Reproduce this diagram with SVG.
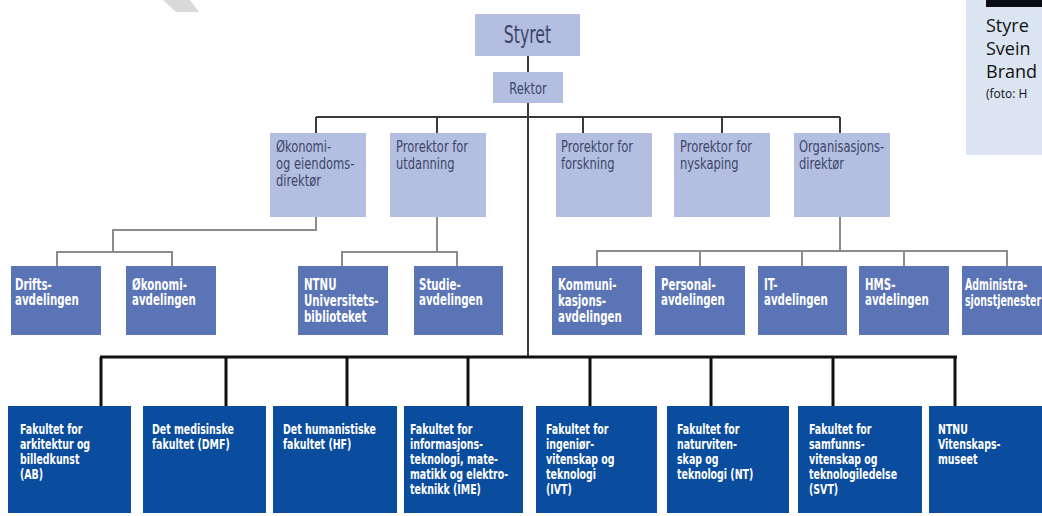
<svg xmlns="http://www.w3.org/2000/svg" width="1042" height="516" viewBox="0 0 1042 516">
<style>
.l1{fill:#b4bee1}
.l3{fill:#5a74b6}
.fac{fill:#0a4c9d}
.t1{font-family:"DejaVu Sans Condensed","Liberation Sans",sans-serif;fill:#3b4768}
.t2{font-family:"DejaVu Sans Condensed","Liberation Sans",sans-serif;font-size:15px;font-weight:bold;fill:#ffffff}
.t3{font-family:"DejaVu Sans Condensed","Liberation Sans",sans-serif;font-size:14px;font-weight:bold;fill:#ffffff}
.top{fill:none;stroke:#3a3a3a;stroke-width:2}
.mid{fill:none;stroke:#8c8c8c;stroke-width:2}
.bot{fill:none;stroke:#111111;stroke-width:3}
.pan{font-family:"Open Sans","Liberation Sans",sans-serif;fill:#111111}
</style>
<rect width="1042" height="516" fill="#ffffff"/>
<polygon points="163,0 190,0 199,12 176,12" fill="#d9d9d9"/>
<g id="panel">
<rect x="966" y="0" width="76" height="155" fill="#dbe4f1"/>
<rect x="986" y="0" width="56" height="7" fill="#0a0a14"/>
<text class="pan" x="986" y="32" font-size="18">Styre</text>
<text class="pan" x="986" y="55" font-size="18">Svein</text>
<text class="pan" x="986" y="78" font-size="18">Brand</text>
<text class="pan" x="986" y="98" font-size="12">(foto: H</text>
</g>
<g id="connectors">
<path class="top" d="M528,56V72 M528,103V357 M316,117H840 M316,117V133 M437,117V133 M583,117V133 M722,117V133 M840,117V133"/>
<path class="mid" d="M316,217V230H113V252 M57,266V252H172V266 M437,217V252 M342,266V252H457V266 M840,217V251 M597,266V251H1007V266 M700,251V266 M802,251V266 M904,251V266"/>
<path class="bot" d="M100,357H957 M101,357V406 M226,357V406 M347,357V406 M468,357V406 M590,357V406 M711,357V406 M833,357V406 M955,357V406"/>
</g>
<g id="styret"><rect class="l1" x="475" y="14" width="105" height="42"/><text class="t1" transform="translate(527.5,0) scale(0.7,1)" x="0" y="43" font-size="25" text-anchor="middle">Styret</text></g>
<g id="rektor"><rect class="l1" x="493" y="72" width="70" height="31"/><text class="t1" transform="translate(528,0) scale(0.8,1)" x="0" y="94" font-size="16" text-anchor="middle">Rektor</text></g>
<g id="okdir"><rect class="l1" x="270" y="133" width="96" height="84"/><text class="t1" font-size="16" transform="translate(276,0) scale(0.8,1)"><tspan x="0" y="152">Økonomi-</tspan><tspan x="0" y="169">og eiendoms-</tspan><tspan x="0" y="186">direktør</tspan></text></g>
<g id="utdanning"><rect class="l1" x="390" y="133" width="96" height="84"/><text class="t1" font-size="16" transform="translate(396,0) scale(0.8,1)"><tspan x="0" y="152">Prorektor for</tspan><tspan x="0" y="169">utdanning</tspan></text></g>
<g id="forskning"><rect class="l1" x="556" y="133" width="96" height="84"/><text class="t1" font-size="16" transform="translate(561,0) scale(0.8,1)"><tspan x="0" y="152">Prorektor for</tspan><tspan x="0" y="169">forskning</tspan></text></g>
<g id="nyskaping"><rect class="l1" x="674" y="133" width="96" height="84"/><text class="t1" font-size="16" transform="translate(680,0) scale(0.8,1)"><tspan x="0" y="152">Prorektor for</tspan><tspan x="0" y="169">nyskaping</tspan></text></g>
<g id="orgdir"><rect class="l1" x="794" y="133" width="96" height="84"/><text class="t1" font-size="16" transform="translate(799,0) scale(0.8,1)"><tspan x="0" y="152">Organisasjons-</tspan><tspan x="0" y="169">direktør</tspan></text></g>
<g id="drift"><rect class="l3" x="11" y="266" width="90" height="69"/><text class="t2" transform="translate(15,0) scale(0.76,1)"><tspan x="0" y="290">Drifts-</tspan><tspan x="0" y="305">avdelingen</tspan></text></g>
<g id="okavd"><rect class="l3" x="126" y="266" width="90" height="69"/><text class="t2" transform="translate(132,0) scale(0.76,1)"><tspan x="0" y="290">Økonomi-</tspan><tspan x="0" y="305">avdelingen</tspan></text></g>
<g id="ub"><rect class="l3" x="298" y="266" width="90" height="69"/><text class="t2" transform="translate(304,0) scale(0.76,1)"><tspan x="0" y="290">NTNU</tspan><tspan x="0" y="306">Universitets-</tspan><tspan x="0" y="322">biblioteket</tspan></text></g>
<g id="studie"><rect class="l3" x="414" y="266" width="89" height="69"/><text class="t2" transform="translate(419,0) scale(0.76,1)"><tspan x="0" y="290">Studie-</tspan><tspan x="0" y="305">avdelingen</tspan></text></g>
<g id="komm"><rect class="l3" x="552" y="266" width="90" height="69"/><text class="t2" transform="translate(558,0) scale(0.76,1)"><tspan x="0" y="290">Kommuni-</tspan><tspan x="0" y="306">kasjons-</tspan><tspan x="0" y="322">avdelingen</tspan></text></g>
<g id="personal"><rect class="l3" x="655" y="266" width="90" height="69"/><text class="t2" transform="translate(661,0) scale(0.76,1)"><tspan x="0" y="290">Personal-</tspan><tspan x="0" y="305">avdelingen</tspan></text></g>
<g id="it"><rect class="l3" x="758" y="266" width="89" height="69"/><text class="t2" transform="translate(764,0) scale(0.76,1)"><tspan x="0" y="290">IT-</tspan><tspan x="0" y="305">avdelingen</tspan></text></g>
<g id="hms"><rect class="l3" x="859" y="266" width="90" height="69"/><text class="t2" transform="translate(865,0) scale(0.76,1)"><tspan x="0" y="290">HMS-</tspan><tspan x="0" y="305">avdelingen</tspan></text></g>
<g id="adm"><rect class="l3" x="962" y="266" width="90" height="69"/><text class="t2" transform="translate(965,0) scale(0.7,1)"><tspan x="0" y="290">Administra-</tspan><tspan x="0" y="306">sjonstjenester</tspan></text></g>
<g id="ab"><rect class="fac" x="8" y="406" width="123" height="107"/><text class="t3" transform="translate(20,0) scale(0.75,1)"><tspan x="0" y="434">Fakultet for</tspan><tspan x="0" y="449">arkitektur og</tspan><tspan x="0" y="464">billedkunst</tspan><tspan x="0" y="479">(AB)</tspan></text></g>
<g id="dmf"><rect class="fac" x="143" y="406" width="123" height="107"/><text class="t3" transform="translate(152,0) scale(0.75,1)"><tspan x="0" y="434">Det medisinske</tspan><tspan x="0" y="449">fakultet (DMF)</tspan></text></g>
<g id="hf"><rect class="fac" x="273" y="406" width="124" height="107"/><text class="t3" transform="translate(283,0) scale(0.75,1)"><tspan x="0" y="434">Det humanistiske</tspan><tspan x="0" y="449">fakultet (HF)</tspan></text></g>
<g id="ime"><rect class="fac" x="404" y="406" width="119" height="107"/><text class="t3" transform="translate(410,0) scale(0.75,1)"><tspan x="0" y="434">Fakultet for</tspan><tspan x="0" y="449">informasjons-</tspan><tspan x="0" y="464">teknologi, mate-</tspan><tspan x="0" y="479">matikk og elektro-</tspan><tspan x="0" y="494">teknikk (IME)</tspan></text></g>
<g id="ivt"><rect class="fac" x="536" y="406" width="121" height="107"/><text class="t3" transform="translate(546,0) scale(0.75,1)"><tspan x="0" y="434">Fakultet for</tspan><tspan x="0" y="449">ingeniør-</tspan><tspan x="0" y="464">vitenskap og</tspan><tspan x="0" y="479">teknologi</tspan><tspan x="0" y="494">(IVT)</tspan></text></g>
<g id="nt"><rect class="fac" x="667" y="406" width="122" height="107"/><text class="t3" transform="translate(677,0) scale(0.75,1)"><tspan x="0" y="434">Fakultet for</tspan><tspan x="0" y="449">naturviten-</tspan><tspan x="0" y="464">skap og</tspan><tspan x="0" y="479">teknologi (NT)</tspan></text></g>
<g id="svt"><rect class="fac" x="798" y="406" width="124" height="107"/><text class="t3" transform="translate(809,0) scale(0.75,1)"><tspan x="0" y="434">Fakultet for</tspan><tspan x="0" y="449">samfunns-</tspan><tspan x="0" y="464">vitenskap og</tspan><tspan x="0" y="479">teknologiledelse</tspan><tspan x="0" y="494">(SVT)</tspan></text></g>
<g id="vm"><rect class="fac" x="929" y="406" width="113" height="107"/><text class="t3" transform="translate(938,0) scale(0.75,1)"><tspan x="0" y="434">NTNU</tspan><tspan x="0" y="449">Vitenskaps-</tspan><tspan x="0" y="464">museet</tspan></text></g>
</svg>
